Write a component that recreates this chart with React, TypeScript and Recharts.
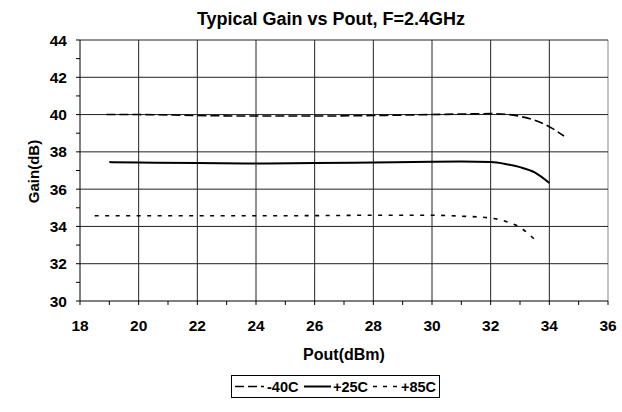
import React from 'react';
import { LineChart, Line, XAxis, YAxis, ReferenceLine } from 'recharts';

const titleText = 'Typical Gain vs Pout, F=2.4GHz';
const xLabel = 'Pout(dBm)';
const yLabel = 'Gain(dB)';

const xTicks = [18, 19, 20, 21, 22, 23, 24, 25, 26, 27, 28, 29, 30, 31, 32, 33, 34, 35, 36];
const yTicks = [30, 31, 32, 33, 34, 35, 36, 37, 38, 39, 40, 41, 42, 43, 44];
const xGrid = [20, 22, 24, 26, 28, 30, 32, 34, 36];
const yGrid = [32, 34, 36, 38, 40, 42, 44];

const seriesNames = ['-40C', '+25C', '+85C'];

const poutM40 = [18.9, 20, 22, 24, 26, 28, 30, 31, 32, 32.5, 33, 33.5, 34, 34.5];
const gainM40 = [40.0, 40.0, 39.95, 39.92, 39.92, 39.95, 40.0, 40.03, 40.05, 40.02, 39.9, 39.7, 39.35, 38.85];

const pout25 = [19, 20, 22, 24, 26, 28, 30, 31, 32, 32.5, 33, 33.5, 34];
const gain25 = [37.45, 37.43, 37.4, 37.38, 37.4, 37.43, 37.47, 37.48, 37.45, 37.35, 37.18, 36.9, 36.33];

const pout85 = [18.5, 20, 22, 24, 26, 28, 30, 31, 32, 32.5, 33, 33.5];
const gain85 = [34.57, 34.57, 34.57, 34.57, 34.58, 34.6, 34.6, 34.55, 34.45, 34.28, 33.95, 33.3];

const toData = (xs: number[], ys: number[]) => xs.map((x, i) => ({ x, y: ys[i] }));
const dataM40 = toData(poutM40, gainM40);
const data25 = toData(pout25, gain25);
const data85 = toData(pout85, gain85);

const dashes = ['9 4', '', '4 6.5'];
const widths = [1.6, 2, 1.6];

const font = 'Arial, "Liberation Sans", sans-serif';

const XTick = (props: any) => {
  const { x, y, payload } = props;
  if (payload.value % 2 !== 0) return null;
  return (
    <text x={x} y={y} dy={9.8} textAnchor="middle" fontFamily={font} fontWeight="bold" fontSize={15.5} fill="#000">
      {payload.value}
    </text>
  );
};

const YTick = (props: any) => {
  const { x, y, payload } = props;
  if (payload.value % 2 !== 0) return null;
  return (
    <text x={x} y={y} dy={5.5} textAnchor="end" fontFamily={font} fontWeight="bold" fontSize={15.5} fill="#000">
      {payload.value}
    </text>
  );
};

const legendItems = [
  { lx1: 235, lx2: 264, tx: 267 },
  { lx1: 304, lx2: 331, tx: 333 },
  { lx1: 373, lx2: 399, tx: 401 },
];

export default function App() {
  return (
    <div style={{ position: 'relative', width: 622, height: 412 }}>
      <style>{'html,body{margin:0;padding:0;overflow:hidden;}'}</style>
      <LineChart width={622} height={412} margin={{ top: 40, right: 14, bottom: 81, left: 40 }}>
        <XAxis
          type="number"
          dataKey="x"
          domain={[18, 36]}
          ticks={xTicks}
          interval={0}
          tick={<XTick />}
          tickSize={4}
          tickMargin={16}
          axisLine={{ stroke: '#000', strokeWidth: 1 }}
          tickLine={{ stroke: '#000' }}
          allowDuplicatedCategory={false}
          height={30}
        />
        <YAxis
          type="number"
          dataKey="y"
          domain={[30, 44]}
          ticks={yTicks}
          interval={0}
          tick={<YTick />}
          tickSize={4}
          tickMargin={9}
          axisLine={{ stroke: '#000', strokeWidth: 1 }}
          tickLine={{ stroke: '#000' }}
          width={40}
        />
        {xGrid.map((v) => (
          <ReferenceLine key={'x' + v} x={v} stroke={v === 36 ? '#888' : '#222'} strokeWidth={1} />
        ))}
        {yGrid.map((v) => (
          <ReferenceLine key={'y' + v} y={v} stroke="#222" strokeWidth={1} />
        ))}
        <Line data={dataM40} dataKey="y" name={seriesNames[0]} type="monotone" stroke="#000" strokeWidth={widths[0]}
          strokeDasharray={dashes[0]} dot={false} isAnimationActive={false} />
        <Line data={data25} dataKey="y" name={seriesNames[1]} type="monotone" stroke="#000" strokeWidth={widths[1]}
          dot={false} isAnimationActive={false} />
        <Line data={data85} dataKey="y" name={seriesNames[2]} type="monotone" stroke="#000" strokeWidth={widths[2]}
          strokeDasharray={dashes[2]} dot={false} isAnimationActive={false} />
      </LineChart>

      <svg width={622} height={412} style={{ position: 'absolute', left: 0, top: 0, pointerEvents: 'none' }}
        fontFamily={font} fontWeight="bold">
        <text x={331} y={25} textAnchor="middle" fontSize={18} fill="#000">{titleText}</text>
        <text x={344} y={359.5} textAnchor="middle" fontSize={16} fill="#000">{xLabel}</text>
        <text x={0} y={0} transform="translate(39,171.5) rotate(-90)" textAnchor="middle" fontSize={15} fill="#000">{yLabel}</text>
        <rect x={231.5} y={375.5} width={208} height={22} fill="none" stroke="#000" strokeWidth={1} />
        {legendItems.map((it, i) => (
          <g key={seriesNames[i]}>
            <line x1={it.lx1} y1={386.5} x2={it.lx2} y2={386.5} stroke="#000" strokeWidth={widths[i]}
              strokeDasharray={i === 0 ? '9 4' : i === 2 ? '4 6' : undefined} />
            <text x={it.tx} y={392} fontSize={14.5} fill="#000">{seriesNames[i]}</text>
          </g>
        ))}
      </svg>
    </div>
  );
}
